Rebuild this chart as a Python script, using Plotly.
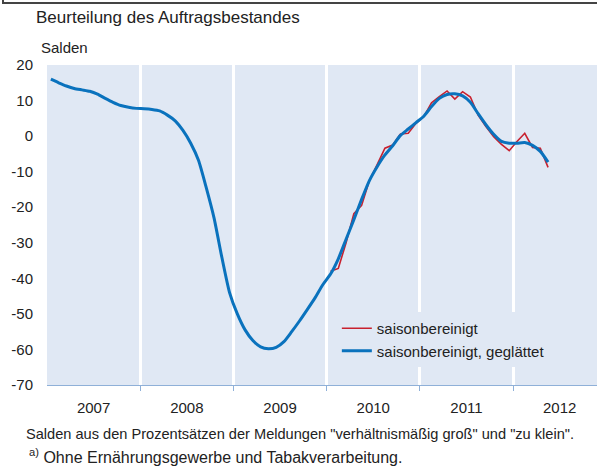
import plotly.graph_objects as go

# ---- data ----
years = [2007, 2008, 2009, 2010, 2011, 2012]
year_labels = ["2007", "2008", "2009", "2010", "2011", "2012"]
y_ticks = [-70, -60, -50, -40, -30, -20, -10, 0, 10, 20]
y_tick_labels = ["-70", "-60", "-50", "-40", "-30", "-20", "-10", "0", "10", "20"]

# smoothed, monthly Jan 2007 .. May 2012
blue_start = (2007, 1)
blue_values = [
    16.0, 15.0, 14.1, 13.4, 13.0, 12.6, 11.8, 10.6, 9.5, 8.6, 8.1, 7.8,          # 2007
    7.7, 7.5, 7.1, 5.9, 4.3, 1.6, -2.0, -6.8, -14.5, -23.0, -34.0, -44.0,        # 2008
    -50.0, -54.5, -57.5, -59.3, -59.8, -59.4, -57.8, -55.0, -52.0, -48.8, -45.5, -41.8,  # 2009
    -38.8, -34.5, -29.0, -23.5, -17.8, -12.5, -8.6, -5.3, -2.7, 0.2, 2.0, 3.8,   # 2010
    5.6, 8.3, 10.6, 11.7, 11.9, 11.3, 9.5, 6.3, 3.2, 0.5, -1.5, -2.0,            # 2011
    -2.0, -1.8, -2.6, -4.3, -7.3,                                                # 2012
]

# seasonally adjusted, monthly Jan 2010 .. May 2012
red_start = (2010, 1)
red_values = [
    -38.0, -37.2, -30.0, -21.8, -19.5, -12.5, -8.0, -3.4, -2.5, 0.6, 0.8, 3.6,   # 2010
    5.5, 9.4, 11.1, 12.7, 10.4, 12.5, 11.0, 5.9, 2.7, -0.2, -2.3, -4.1,          # 2011
    -1.5, 0.8, -3.2, -3.4, -8.8,                                                 # 2012
]

def month_positions(start, n):
    y0, m0 = start
    out = []
    for i in range(n):
        k = (m0 - 1) + i
        out.append(y0 + k // 12 + ((k % 12) + 0.5) / 12.0)
    return out

blue_x = month_positions(blue_start, len(blue_values))
red_x = month_positions(red_start, len(red_values))

FONT = "Arial, Liberation Sans, sans-serif"
BG = "#e0e8f4"
BLUE = "#0a72bd"
RED = "#c8202e"
TXT = "#222222"

fig = go.Figure()
fig.add_trace(go.Scatter(x=red_x, y=red_values, mode="lines",
                         line=dict(color=RED, width=1.6),
                         name="saisonbereinigt"))
fig.add_trace(go.Scatter(x=blue_x, y=blue_values, mode="lines",
                         line=dict(color=BLUE, width=3, shape="spline", smoothing=0.6),
                         name="saisonbereinigt, geglättet"))

def py(px):  # pixel row -> paper y (plot area 65..385)
    return (385 - px) / 320.0

def pxx(px):  # pixel column -> paper x (plot area 47..597)
    return (px - 47) / 550.0

fig.update_layout(
    width=597, height=466,
    margin=dict(l=47, r=0, t=65, b=81),
    paper_bgcolor="white",
    plot_bgcolor=BG,
    font=dict(family=FONT, size=15, color=TXT),
    showlegend=True,
    legend=dict(x=0.527, y=0.228, xanchor="left", yanchor="top",
                bgcolor=BG, borderwidth=0,
                font=dict(family=FONT, size=15, color=TXT),
                itemwidth=30, tracegroupgap=0),
    xaxis=dict(
        range=[2007.0, 2012.9],
        tickvals=[y + 0.5 for y in years], ticktext=year_labels,
        ticks="outside", ticklen=9, tickcolor="rgba(0,0,0,0)",
        showgrid=False, zeroline=False, automargin=False,
        showline=True, linecolor="#8fb0d8", linewidth=1,
        tickfont=dict(size=15, color=TXT),
        minor=dict(tickvals=years[1:], showgrid=True, gridcolor="white",
                   gridwidth=3, ticks="outside", ticklen=5, tickcolor="#8fb0d8"),
    ),
    yaxis=dict(
        range=[-70, 20], tickvals=y_ticks, ticktext=y_tick_labels,
        ticks="outside", ticklen=10, tickcolor="rgba(0,0,0,0)",
        showgrid=False, zeroline=False, showline=False, automargin=False,
        tickfont=dict(size=15, color=TXT),
    ),
    annotations=[
        dict(text="Beurteilung des Auftragsbestandes", xref="paper", yref="paper",
             x=pxx(34), y=py(18), xanchor="left", yanchor="middle", showarrow=False,
             font=dict(size=17, color=TXT)),
        dict(text="Salden", xref="paper", yref="paper",
             x=pxx(39), y=py(47), xanchor="left", yanchor="middle", showarrow=False,
             font=dict(size=15, color=TXT)),
        dict(text="Salden aus den Prozentsätzen der Meldungen \"verhältnismäßig groß\" und \"zu klein\".",
             xref="paper", yref="paper", x=pxx(24), y=py(434), xanchor="left", yanchor="middle",
             showarrow=False, font=dict(size=14.6, color=TXT)),
        dict(text="<sup>a)</sup> Ohne Ernährungsgewerbe und Tabakverarbeitung.",
             xref="paper", yref="paper", x=pxx(27), y=py(456), xanchor="left", yanchor="middle",
             showarrow=False, font=dict(size=16, color=TXT)),
    ],
    shapes=[
        dict(type="line", xref="paper", yref="paper", x0=pxx(2), x1=pxx(597),
             y0=py(3), y1=py(3), line=dict(color="#444444", width=2)),
        dict(type="line", xref="paper", yref="paper", x0=pxx(3), x1=pxx(3),
             y0=py(3), y1=py(0), line=dict(color="#444444", width=2)),
    ],
)

fig.write_html("out.html",
               config={"displayModeBar": False},
               post_script="document.body.style.margin='0';document.body.style.padding='0';")
